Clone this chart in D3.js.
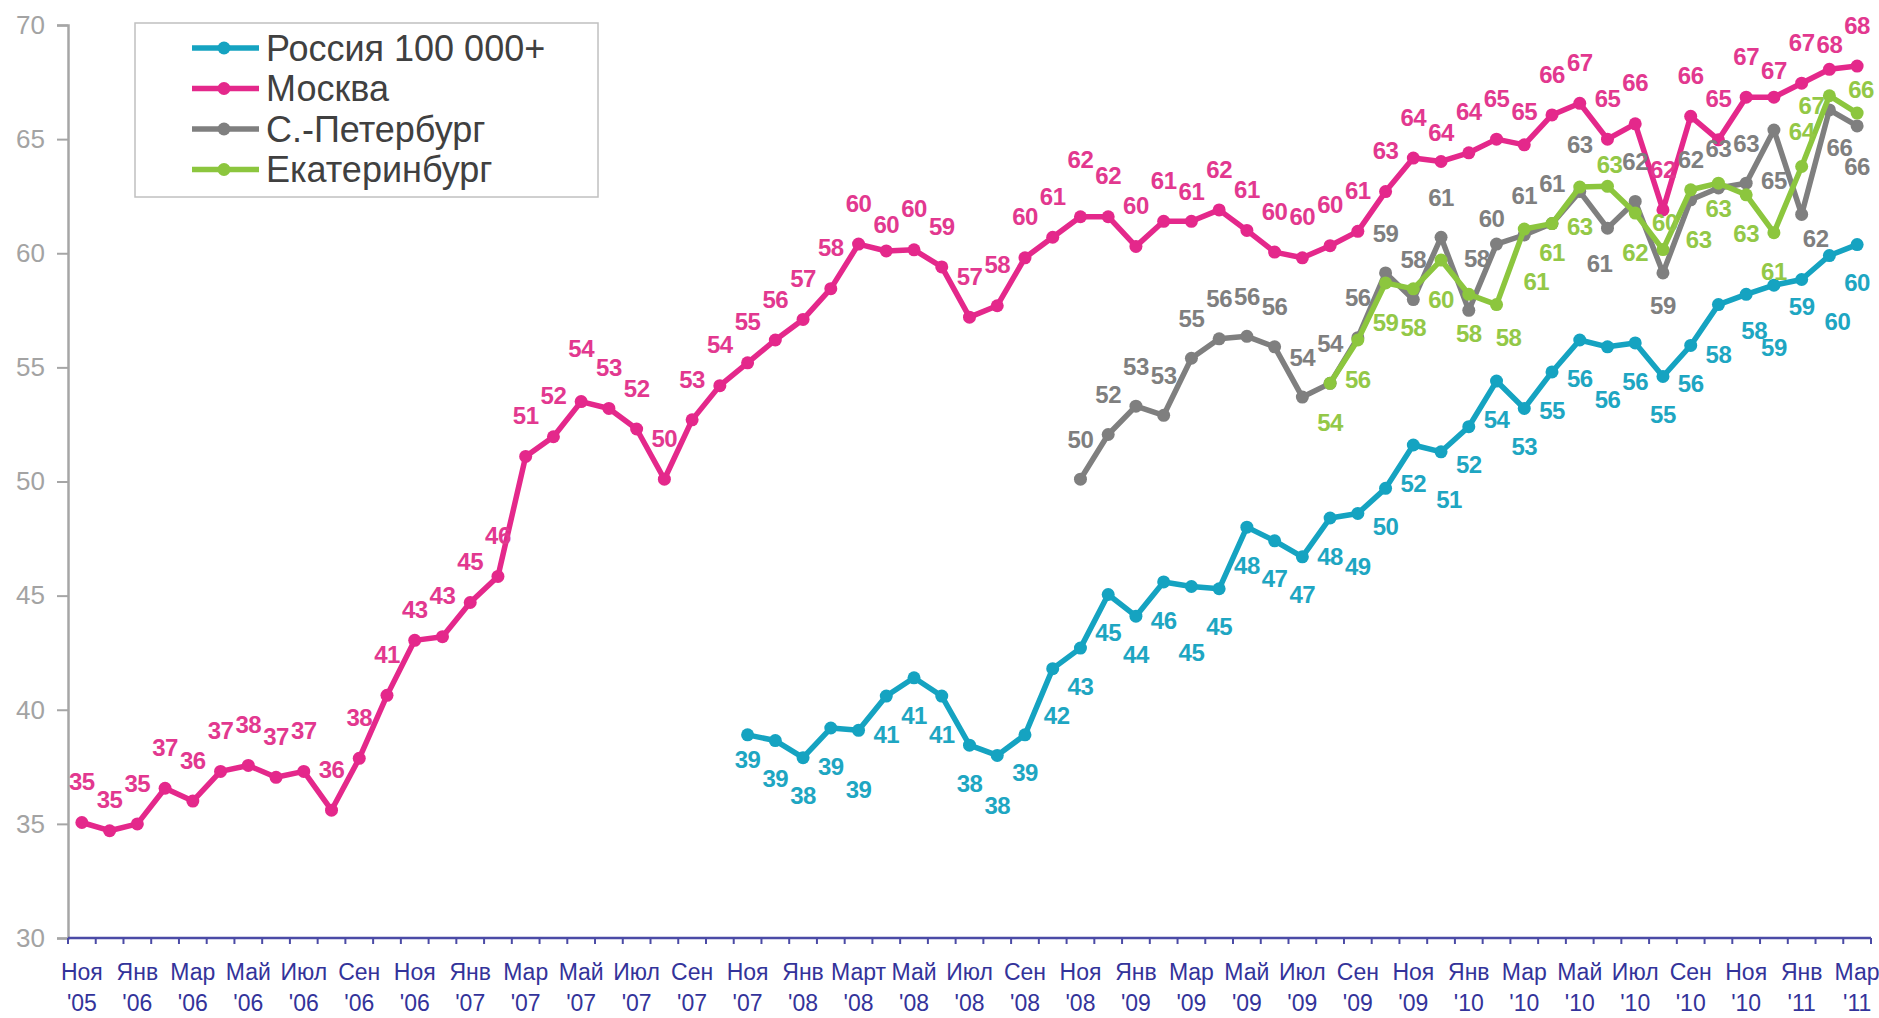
<!DOCTYPE html>
<html>
<head>
<meta charset="utf-8">
<script src="https://cdn.jsdelivr.net/npm/d3@7"></script>
<style>
  body { margin: 0; background: #fff; }
  svg { display: block; }
</style>
</head>
<body>
<svg id="chart"></svg>
<script>
// months on the x axis, Nov 2005 .. Mar 2011
const months = [
  "2005-11","2005-12",
  "2006-01","2006-02","2006-03","2006-04","2006-05","2006-06","2006-07","2006-08","2006-09","2006-10","2006-11","2006-12",
  "2007-01","2007-02","2007-03","2007-04","2007-05","2007-06","2007-07","2007-08","2007-09","2007-10","2007-11","2007-12",
  "2008-01","2008-02","2008-03","2008-04","2008-05","2008-06","2008-07","2008-08","2008-09","2008-10","2008-11","2008-12",
  "2009-01","2009-02","2009-03","2009-04","2009-05","2009-06","2009-07","2009-08","2009-09","2009-10","2009-11","2009-12",
  "2010-01","2010-02","2010-03","2010-04","2010-05","2010-06","2010-07","2010-08","2010-09","2010-10","2010-11","2010-12",
  "2011-01","2011-02","2011-03"
];

const tickLabels = [
  "Ноя '05","Янв '06","Мар '06","Май '06","Июл '06","Сен '06","Ноя '06","Янв '07","Мар '07","Май '07","Июл '07",
  "Сен '07","Ноя '07","Янв '08","Март '08","Май '08","Июл '08","Сен '08","Ноя '08","Янв '09","Мар '09","Май '09",
  "Июл '09","Сен '09","Ноя '09","Янв '10","Мар '10","Май '10","Июл '10","Сен '10","Ноя '10","Янв '11","Мар '11"
];

const yTicks = [30, 35, 40, 45, 50, 55, 60, 65, 70];

// series values, each starts at its own month
const russiaStart = "2007-11";
const russia = [38.9,38.65,37.9,39.2,39.1,40.6,41.4,40.6,38.45,38.0,38.9,41.8,42.7,45.05,44.1,45.6,45.4,45.3,48.0,47.4,
  46.7,48.4,48.6,49.7,51.6,51.3,52.4,54.4,53.2,54.8,56.2,55.9,56.07,54.6,55.96,57.75,58.2,58.6,58.85,59.9,60.38];

const moscowStart = "2005-11";
const moscow = [35.06,34.7,35.0,36.56,36.0,37.3,37.56,37.04,37.3,35.6,37.87,40.63,43.04,43.2,44.7,45.84,51.1,51.96,53.5,53.2,
  52.3,50.1,52.7,54.2,55.2,56.2,57.1,58.45,60.4,60.1,60.15,59.4,57.2,57.7,59.8,60.7,61.6,61.6,60.3,61.4,
  61.4,61.9,61.0,60.05,59.8,60.33,60.96,62.7,64.17,64.02,64.4,65.0,64.75,66.06,66.57,65.0,65.67,61.9,66.0,64.97,
  66.84,66.84,67.45,68.06,68.2];

const spbStart = "2008-11";
const spb = [50.1,52.06,53.3,52.9,55.4,56.25,56.36,55.9,53.7,54.3,56.3,59.14,57.97,60.7,57.5,60.4,60.8,61.3,62.7,61.1,
  62.27,59.14,62.34,62.86,63.07,65.4,61.7,66.28,65.58];

const ekbStart = "2009-08";
const ekb = [54.3,56.2,58.7,58.44,59.7,58.2,57.75,61.06,61.3,62.9,62.93,61.76,60.16,62.78,63.07,62.56,60.9,63.8,66.9,66.14];

const seriesNames = ["Россия 100 000+", "Москва", "С.-Петербург", "Екатеринбург"];

// hand-moved data labels (offset from the marker, px)
const labelMoves = {
  "Москва|2005-12": [0, -31], "Москва|2006-11": [0, -31], "Москва|2007-05": [0, -53], "Москва|2008-04": [0, -27],
  "Москва|2008-11": [0, -57], "Москва|2009-03": [0, -30], "Москва|2009-12": [0, -29], "Москва|2010-03": [0, -33],
  "Москва|2010-12": [0, -27], "Москва|2011-02": [0, -25],
  "Россия 100 000+|2007-11": [0, 25], "Россия 100 000+|2008-03": [0, 59], "Россия 100 000+|2008-08": [0, 50],
  "Россия 100 000+|2008-10": [4, 47], "Россия 100 000+|2009-03": [0, 66], "Россия 100 000+|2009-09": [0, 53],
  "Россия 100 000+|2009-12": [8, 48], "Россия 100 000+|2010-06": [0, 53], "Россия 100 000+|2010-10": [0, 50],
  "Россия 100 000+|2010-11": [8, 36], "Россия 100 000+|2010-12": [0, 62], "Россия 100 000+|2011-01": [0, 27],
  "Россия 100 000+|2011-02": [8, 66],
  "С.-Петербург|2010-01": [8, -52], "С.-Петербург|2010-02": [-5, -26], "С.-Петербург|2010-05": [0, -47],
  "С.-Петербург|2010-06": [-8, 35], "С.-Петербург|2010-08": [0, 32], "С.-Петербург|2010-12": [0, 50],
  "С.-Петербург|2011-01": [14, 24], "С.-Петербург|2011-02": [10, 37], "С.-Петербург|2011-03": [0, 40],
  "Екатеринбург|2010-02": [12, 33], "Екатеринбург|2010-03": [12, 52], "Екатеринбург|2010-04": [0, 29],
  "Екатеринбург|2010-06": [2, -22], "Екатеринбург|2010-08": [2, -27], "Екатеринбург|2010-09": [8, 50],
  "Екатеринбург|2010-10": [0, 25], "Екатеринбург|2011-01": [0, -35], "Екатеринбург|2011-02": [-18, 10],
  "Екатеринбург|2011-03": [4, -24]
};

const W = 1879, H = 1018;
const svg = d3.select("#chart").attr("width", W).attr("height", H);

const x = d3.scaleBand().domain(months).range([68, 1871]);
const y = d3.scaleLinear().domain([30, 70]).range([938, 25]);
const cx = m => x(m) + x.bandwidth() / 2;

function build(start, vals) {
  const k = months.indexOf(start);
  return vals.map((v, i) => ({ m: months[k + i], v: v }));
}

const series = [
  { name: seriesNames[0], data: build(russiaStart, russia), line: "#15a3c1", text: "#1ea6c2", dy: 38 },
  { name: seriesNames[1], data: build(moscowStart, moscow), line: "#e4288b", text: "#e2388f", dy: -41 },
  { name: seriesNames[2], data: build(spbStart, spb), line: "#7f7f7f", text: "#7f7f7f", dy: -40 },
  { name: seriesNames[3], data: build(ekbStart, ekb), line: "#8cc63e", text: "#93c847", dy: 39 }
];

// y axis
const yAxis = svg.append("g")
  .attr("transform", "translate(68,0)")
  .call(d3.axisLeft(y).tickValues(yTicks).tickSize(11).tickPadding(12));
yAxis.select(".domain").attr("stroke", "#a6a6a6").attr("stroke-width", 2.5);
yAxis.selectAll(".tick line").attr("stroke", "#a6a6a6").attr("stroke-width", 2);
yAxis.selectAll(".tick text")
  .attr("fill", "#a3a3a3")
  .style("font-family", "'Liberation Sans', Arial, sans-serif")
  .style("font-size", "26px");

// x axis
const xAxis = svg.append("g").attr("transform", "translate(0,938)");
xAxis.append("line")
  .attr("x1", x.range()[0]).attr("x2", x.range()[1])
  .attr("stroke", "#4b4ba6").attr("stroke-width", 2.5);
xAxis.selectAll(".xt")
  .data(months.concat(["end"]))
  .enter().append("line")
  .attr("class", "xt")
  .attr("x1", d => d === "end" ? x.range()[1] : x(d))
  .attr("x2", d => d === "end" ? x.range()[1] : x(d))
  .attr("y1", 0).attr("y2", 6)
  .attr("stroke", "#4b4ba6").attr("stroke-width", 2);

const labelMonths = months.filter((d, i) => i % 2 === 0);
const xl = xAxis.selectAll(".xl")
  .data(labelMonths)
  .enter().append("text")
  .attr("class", "xl")
  .attr("text-anchor", "middle")
  .attr("fill", "#33339a")
  .style("font-family", "'Liberation Sans', Arial, sans-serif")
  .style("font-size", "23px");
xl.append("tspan").attr("x", d => cx(d)).attr("y", 42).text((d, i) => tickLabels[i].split(" ")[0]);
xl.append("tspan").attr("x", d => cx(d)).attr("y", 73).text((d, i) => tickLabels[i].split(" ")[1]);

// lines + markers
const line = d3.line().x(d => cx(d.m)).y(d => y(d.v));
const plot = svg.append("g");
series.forEach(s => {
  plot.append("path")
    .datum(s.data)
    .attr("fill", "none")
    .attr("stroke", s.line)
    .attr("stroke-width", 5.5)
    .attr("stroke-linejoin", "round")
    .attr("d", line);
  plot.selectAll(null)
    .data(s.data)
    .enter().append("circle")
    .attr("cx", d => cx(d.m))
    .attr("cy", d => y(d.v))
    .attr("r", 6.5)
    .attr("fill", s.line);
});

// data labels
const labels = svg.append("g")
  .style("font-family", "'Liberation Sans', Arial, sans-serif")
  .style("font-size", "24px")
  .style("font-weight", "bold")
  .style("letter-spacing", "-0.5px");
series.forEach(s => {
  const mv = d => labelMoves[s.name + "|" + d.m] || [0, s.dy];
  labels.selectAll(null)
    .data(s.data)
    .enter().append("text")
    .attr("x", d => cx(d.m) + mv(d)[0])
    .attr("y", d => y(d.v) + mv(d)[1])
    .attr("dy", "0.36em")
    .attr("text-anchor", "middle")
    .attr("fill", s.text)
    .text(d => Math.round(d.v));
});

// legend
const lg = svg.append("g").attr("transform", "translate(135,23)");
lg.append("rect")
  .attr("width", 463).attr("height", 174)
  .attr("fill", "#fff")
  .attr("stroke", "#c0c0c0").attr("stroke-width", 1.5);
const item = lg.selectAll(".li")
  .data(series)
  .enter().append("g")
  .attr("transform", (d, i) => "translate(0," + (25 + i * 40.5) + ")");
item.append("line")
  .attr("x1", 57).attr("x2", 124)
  .attr("stroke", d => d.line).attr("stroke-width", 5.5);
item.append("circle")
  .attr("cx", 89).attr("r", 6.5)
  .attr("fill", d => d.line);
item.append("text")
  .attr("x", 131).attr("dy", "0.36em")
  .attr("fill", "#404040")
  .style("font-family", "'Liberation Sans', Arial, sans-serif")
  .style("font-size", "36px")
  .text(d => d.name);
</script>
</body>
</html>
